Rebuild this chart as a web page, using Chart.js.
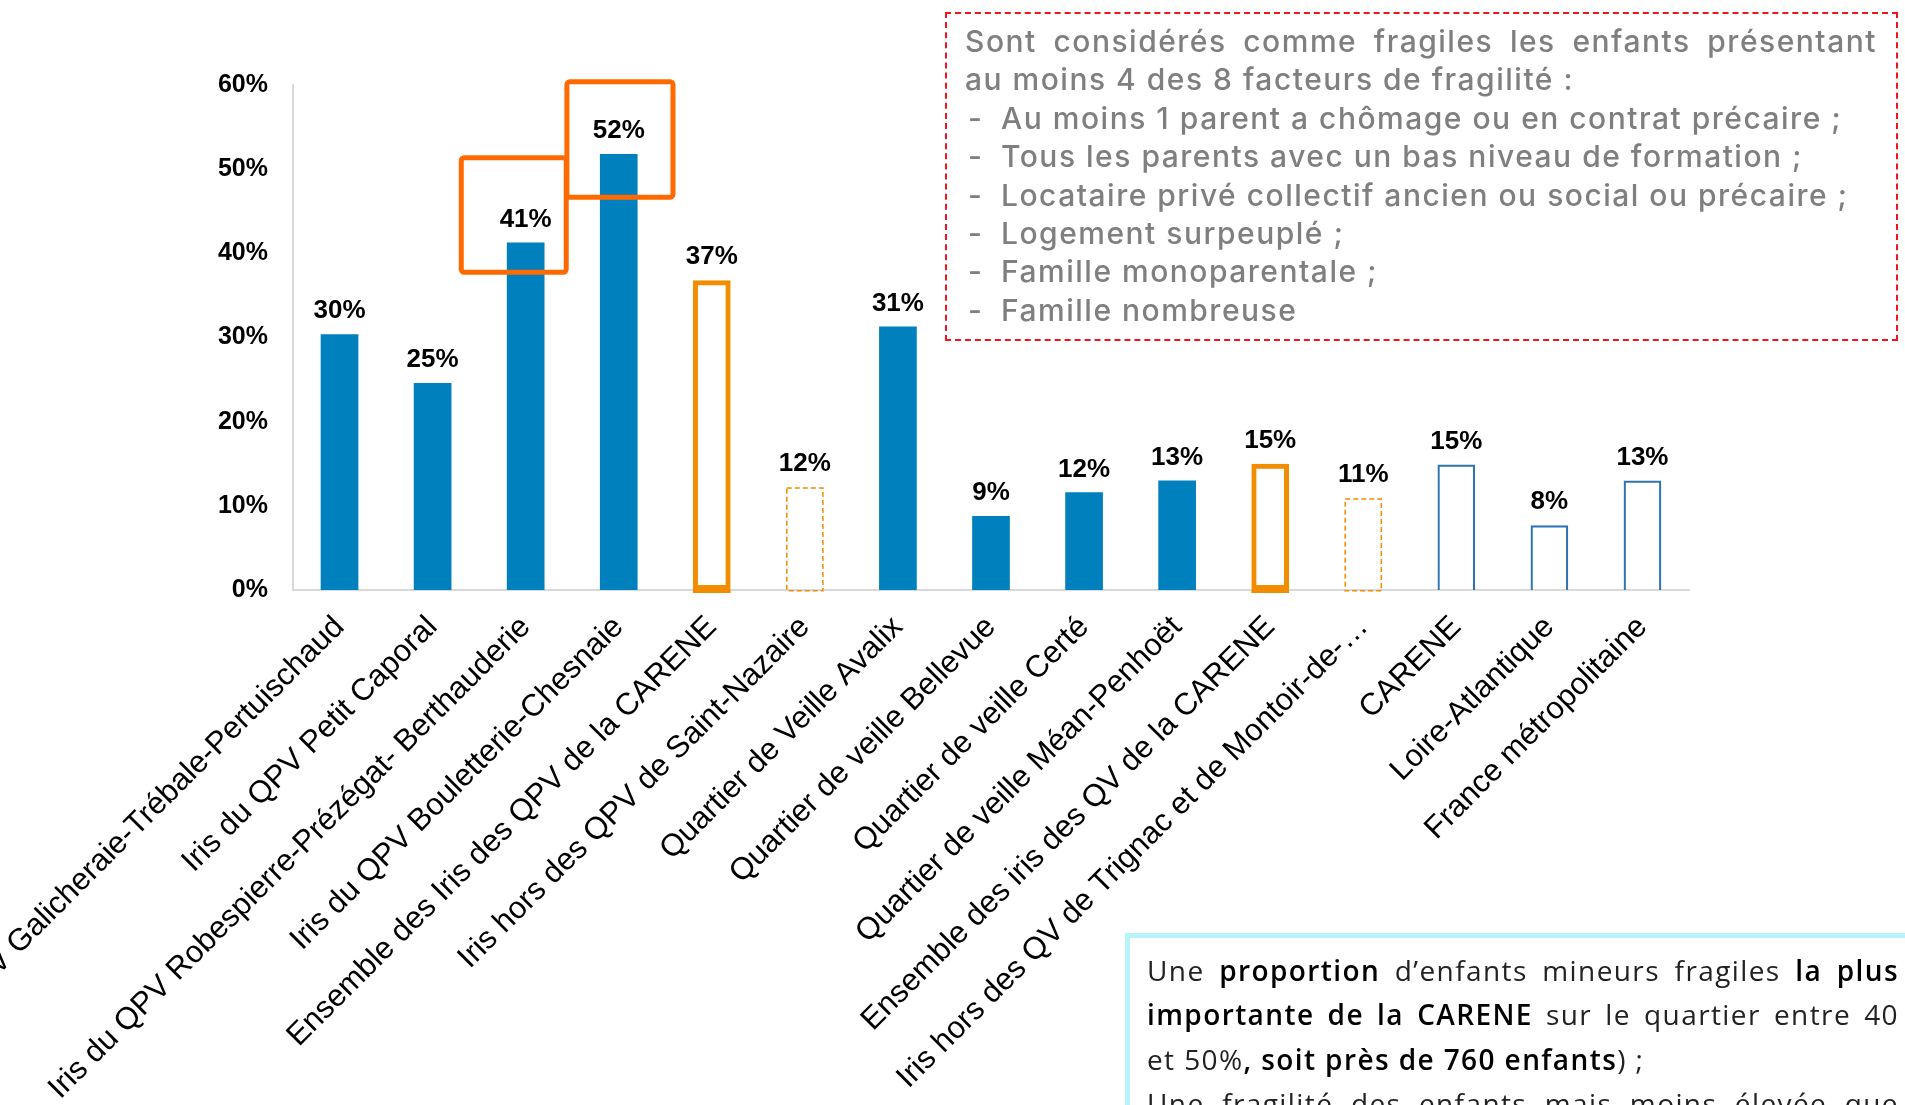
<!DOCTYPE html>
<html lang="fr">
<head>
<meta charset="utf-8">
<title>Enfants mineurs fragiles</title>
<script src="https://cdn.jsdelivr.net/npm/chart.js@4.4.1/dist/chart.umd.min.js"></script>
<style>
  html, body { margin: 0; padding: 0; background: #fff; overflow: hidden; }
  #wrap { position: absolute; left: 0; top: 0; width: 1905px; height: 1105px; }
  .note {
    position: absolute; left: 945px; top: 12px; width: 953px; height: 329px;
    box-sizing: border-box; border: 2px dashed #f0141e;
    padding: 8px 19px 0 18px;
    font-family: Inter, "Noto Sans", sans-serif; font-weight: 500;
    font-size: 30px; line-height: 38.4px; letter-spacing: 1.5px;
    color: #7f7f7f; white-space: nowrap;
  }
  .note .li { position: relative; padding-left: 36px; }
  .note .li::before { content: "-"; position: absolute; left: 3px; }
  .j { text-align: justify; text-align-last: justify; }
  .comment {
    position: absolute; left: 1125px; top: 933px; width: 1000px; height: 400px;
    box-sizing: border-box; border: 5px solid #b6f4fb;
    padding: 10px 0 0 17px;
    font-family: "Open Sans", Lato, sans-serif; font-size: 28px; line-height: 44.4px;
    letter-spacing: 1.4px; color: #222; white-space: nowrap;
  }
  .comment div { width: 752px; }
  .comment b { color: #000; font-weight: 600; }
</style>
</head>
<body>
<div id="wrap"><canvas id="chart"></canvas></div>

<div class="note">
  <div class="j">Sont considérés comme fragiles les enfants présentant</div>
  <div>au moins 4 des 8 facteurs de fragilité :</div>
  <div class="li">Au moins 1 parent a chômage ou en contrat précaire ;</div>
  <div class="li">Tous les parents avec un bas niveau de formation ;</div>
  <div class="li">Locataire privé collectif ancien ou social ou précaire ;</div>
  <div class="li">Logement surpeuplé ;</div>
  <div class="li">Famille monoparentale ;</div>
  <div class="li">Famille nombreuse</div>
</div>

<div class="comment">
  <div class="j">Une <b>proportion</b> d’enfants mineurs fragiles <b>la plus</b></div>
  <div class="j"><b>importante de la CARENE</b> sur le quartier entre 40</div>
  <div>et 50%<b>, soit près de 760 enfants</b>) ;</div>
  <div class="j">Une fragilité des enfants mais moins élevée que</div>
</div>

<script>
const categories = [
  "Iris du QPV Galicheraie-Trébale-Pertuischaud",
  "Iris du QPV Petit Caporal",
  "Iris du QPV Robespierre-Prézégat- Berthauderie",
  "Iris du QPV Bouletterie-Chesnaie",
  "Ensemble des Iris des QPV de la CARENE",
  "Iris hors des QPV de Saint-Nazaire",
  "Quartier de Veille Avalix",
  "Quartier de veille Bellevue",
  "Quartier de veille Certé",
  "Quartier de veille Méan-Penhoët",
  "Ensemble des iris des QV de la CARENE",
  "Iris hors des QV de Trignac et de Montoir-de-…",
  "CARENE",
  "Loire-Atlantique",
  "France métropolitaine"
];
const values = [30.4, 24.6, 41.3, 51.8, 36.8, 12.2, 31.3, 8.8, 11.6, 13.0, 15.0, 10.9, 14.9, 7.7, 13.0];
const groups = ["qpv", "qpv", "qpv", "qpv", "ensemble", "hors", "qv", "qv", "qv", "qv", "ensemble", "hors", "ref", "ref", "ref"];
const yTickValues = [0, 10, 20, 30, 40, 50, 60];

const BLUE = "#0080bd";
const ORANGE = "#f28c00";
const RED_ORANGE = "#ff6a00";
const OUTLINE_BLUE = "#2e74b5";
const AXIS = "#d9d9d9";
const FONT = '"Liberation Sans", Arial, sans-serif';

// ===== cadres orange autour des deux plus fortes valeurs =====
const highlights = [
  { index: 2, from: -0.692, to: 0.436, low: 37.75, high: 51.36 },
  { index: 3, from: -0.557, to: 0.583, low: 46.66, high: 60.39 }
];

const barDecor = {
  id: "barDecor",
  afterDatasetsDraw(chart) {
    const ctx = chart.ctx;
    const meta = chart.getDatasetMeta(0);
    meta.data.forEach((bar, i) => {
      const p = bar.getProps(["x", "y", "base", "width"], true);
      if (groups[i] === "hors") {
        ctx.save();
        ctx.strokeStyle = ORANGE;
        ctx.lineWidth = 1.5;
        ctx.setLineDash([5, 3]);
        ctx.strokeRect(p.x - p.width / 2 + 0.8, p.y + 0.8, p.width - 1.6, p.base - p.y);
        ctx.restore();
      }
      if (groups[i] === "ensemble") {
        // le cadre plein déborde un peu sous l'axe
        ctx.save();
        ctx.fillStyle = ORANGE;
        ctx.fillRect(p.x - p.width / 2, p.base, p.width, 3);
        ctx.restore();
      }
      ctx.save();
      ctx.font = "bold 26px " + FONT;
      ctx.fillStyle = "#000";
      ctx.textAlign = "center";
      ctx.textBaseline = "middle";
      ctx.fillText(Math.round(values[i]) + "%", p.x, p.y - 23);
      ctx.restore();
    });
  },
  afterDraw(chart) {
    const ctx = chart.ctx;
    const xs = chart.scales.x, ys = chart.scales.y;
    const step = xs.getPixelForValue(1) - xs.getPixelForValue(0);
    highlights.forEach(h => {
      const cx = xs.getPixelForValue(h.index);
      const l = cx + h.from * step, r = cx + h.to * step;
      const t = ys.getPixelForValue(h.high), b = ys.getPixelForValue(h.low);
      ctx.save();
      ctx.strokeStyle = RED_ORANGE;
      ctx.lineWidth = 5;
      ctx.lineJoin = "round";
      ctx.beginPath();
      ctx.roundRect(l, t, r - l, b - t, 3);
      ctx.stroke();
      ctx.restore();
    });
  }
};

function barFill(i) {
  return groups[i] === "qpv" || groups[i] === "qv" ? BLUE : "rgba(0,0,0,0)";
}
function barBorder(i) {
  if (groups[i] === "ensemble") return ORANGE;
  if (groups[i] === "ref") return OUTLINE_BLUE;
  return BLUE;
}
function barBorderWidth(i) {
  if (groups[i] === "ensemble") return 5;
  if (groups[i] === "ref") return 2.2;
  return 0;
}

const ctx = document.getElementById("chart").getContext("2d");
new Chart(ctx, {
  type: "bar",
  data: {
    labels: categories,
    datasets: [{
      data: values,
      backgroundColor: c => barFill(c.dataIndex),
      borderColor: c => barBorder(c.dataIndex),
      borderWidth: c => barBorderWidth(c.dataIndex),
      borderSkipped: c => groups[c.dataIndex] === "ref" ? "bottom" : false,
      barPercentage: 0.405,
      categoryPercentage: 1
    }]
  },
  options: {
    responsive: true,
    maintainAspectRatio: false,
    animation: false,
    layout: { padding: { left: 0, right: 216, top: 85, bottom: 0 } },
    plugins: {
      legend: { display: false },
      tooltip: { enabled: false }
    },
    scales: {
      x: {
        grid: { display: false, drawTicks: false },
        border: { display: true, color: AXIS, width: 2 },
        ticks: {
          autoSkip: false,
          maxRotation: 45,
          minRotation: 45,
          padding: 19,
          color: "#000",
          font: { family: FONT, size: 31 }
        },
        afterFit(scale) {
          scale.height = 515;
          scale.paddingLeft = 0;
          scale.paddingRight = 0;
        }
      },
      y: {
        min: 0,
        max: 60,
        grid: { display: false, drawTicks: false },
        border: { display: true, color: AXIS, width: 2 },
        afterBuildTicks(scale) {
          scale.ticks = yTickValues.map(v => ({ value: v }));
        },
        ticks: {
          padding: 25,
          color: "#000",
          font: { family: FONT, size: 25, weight: "bold" },
          callback: v => v + "%"
        },
        afterFit(scale) {
          scale.width = 293;
          scale.paddingTop = 0;
          scale.paddingBottom = 0;
        }
      }
    }
  },
  plugins: [barDecor]
});
</script>
</body>
</html>
